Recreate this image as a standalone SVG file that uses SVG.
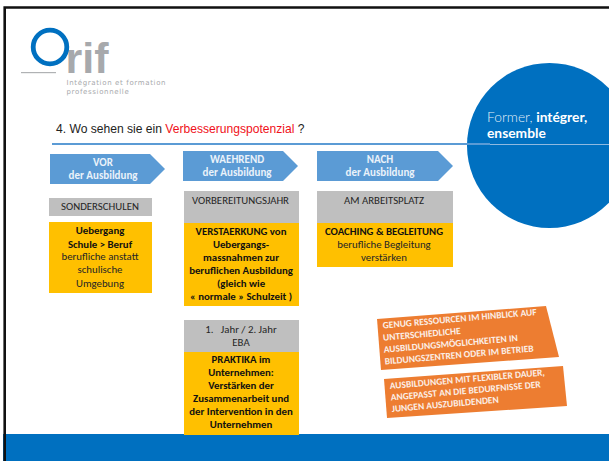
<svg xmlns="http://www.w3.org/2000/svg" width="609" height="461" viewBox="0 0 609 461">
<style>
.c{font-family:"Carlito","Lato","Open Sans",sans-serif;font-size:10.8px;text-anchor:middle;fill:#262626}
.b{font-weight:700;fill:#111}
.w{fill:#eaf2fa;font-weight:700;font-size:11px;text-anchor:middle;font-family:"Carlito","Lato","Open Sans",sans-serif}
.arrow{fill:#5b9bd5}
.grey{fill:#bfbfbf}
.yel{fill:#ffc000}
.or{fill:#ed7d31}
.ot{fill:#fbeee6;font-family:"Carlito","Lato","Open Sans",sans-serif;font-size:9.500px;font-weight:700}
.log{font-family:"DejaVu Sans",sans-serif;fill:#a7a9ac;font-size:7px;font-weight:400;letter-spacing:.65px}
.f{font-family:"Lato","Open Sans",sans-serif;font-size:13.800px;fill:#fff}
</style>
<rect width="609" height="461" fill="#fff"/>
<rect id="footer" x="3" y="434" width="606" height="27" fill="#0070c0"/>
<path id="frame" d="M4.700 461V7.500H609" fill="none" stroke="#111" stroke-width="2.600"/>
<g id="logo">
<text x="65.500" y="73" font-family="'Liberation Sans',sans-serif" font-size="43" font-weight="700" fill="#a7a9ac">rif</text>
<circle cx="50" cy="47" r="16.800" fill="none" stroke="#0070c0" stroke-width="4.800"/>
<rect x="21" y="72" width="35" height="1.200" fill="#b0b2b4"/>
<text class="log" x="66.500" y="85">Intégration et formation</text>
<text class="log" x="66.500" y="93.500">professionnelle</text>
</g>
<g id="circle">
<circle cx="549.500" cy="145.500" r="82.500" fill="#0070c0"/>
<text class="f" x="487" y="122" font-weight="300" fill-opacity=".9">Former, <tspan font-weight="700" fill-opacity="1">intégrer,</tspan></text>
<text class="f" x="487" y="138" font-weight="700">ensemble</text>
</g>
<g id="connectors">
<path d="M52 144H490" stroke="#5b9bd5" stroke-width="2" fill="none"/>
<path d="M490 144.500H609" stroke="#8fb9e0" stroke-width="1" fill="none"/>
</g>
<text id="title" x="56" y="133" font-family="'Liberation Sans',sans-serif" font-size="12.100" fill="#222">4. Wo sehen sie ein <tspan fill="#f01020">Verbesserungspotenzial</tspan> ?</text>
<g id="vor"><path class="arrow" d="M50 154H150L165 169L150 184H50Z"/><text class="w" x="103" y="166">VOR</text><text class="w" x="103" y="179">der Ausbildung</text></g>
<g id="waehrend"><path class="arrow" d="M183 151H283L298 166L283 181H183Z"/><text class="w" x="237" y="163">WAEHREND</text><text class="w" x="237" y="176">der Ausbildung</text></g>
<g id="nach"><path class="arrow" d="M317 151H438L453 166L438 181H317Z"/><text class="w" x="380" y="163">NACH</text><text class="w" x="380" y="176">der Ausbildung</text></g>
<g id="sonder"><rect class="grey" x="49" y="198" width="103" height="18"/><text class="c" x="100" y="210">SONDERSCHULEN</text></g>
<g id="uebergang"><rect class="yel" x="49" y="222" width="103" height="71"/>
<text class="c b" x="100" y="234">Uebergang</text><text class="c b" x="100" y="248">Schule &gt; Beruf</text><text class="c" x="100" y="260">berufliche anstatt</text><text class="c" x="100" y="273">schulische</text><text class="c" x="100" y="287">Umgebung</text></g>
<g id="vorbereitung"><rect class="grey" x="184" y="191" width="115" height="33"/><text class="c" x="240.500" y="204">VORBEREITUNGSJAHR</text></g>
<g id="verstaerkung"><rect class="yel" x="184" y="223" width="115" height="83"/>
<text class="c b" x="241" y="235">VERSTAERKUNG von</text><text class="c b" x="241" y="248">Uebergangs-</text><text class="c b" x="241" y="261">massnahmen zur</text><text class="c b" x="241" y="274">beruflichen Ausbildung</text><text class="c b" x="241" y="287">(gleich wie</text><text class="c b" x="241" y="300">« normale » Schulzeit )</text></g>
<g id="jahr"><rect class="grey" x="184" y="320" width="115" height="32"/><text class="c" x="241" y="333" xml:space="preserve">1.   Jahr / 2. Jahr</text><text class="c" x="241" y="346">EBA</text></g>
<g id="praktika"><rect class="yel" x="184" y="352" width="115" height="83"/>
<text class="c b" x="241" y="363">PRAKTIKA im</text><text class="c b" x="241" y="376">Unternehmen:</text><text class="c b" x="241" y="389">Verstärken der</text><text class="c b" x="241" y="402">Zusammenarbeit und</text><text class="c b" x="241" y="415">der Intervention in den</text><text class="c b" x="241" y="428">Unternehmen</text></g>
<g id="arbeitsplatz"><rect class="grey" x="317" y="191" width="136" height="33"/><text class="c" x="384" y="204">AM ARBEITSPLATZ</text></g>
<g id="coaching"><rect class="yel" x="317" y="223" width="136" height="44"/>
<text class="c b" x="384" y="235">COACHING &amp; BEGLEITUNG</text><text class="c" x="384" y="248">berufliche Begleitung</text><text class="c" x="384" y="261">verstärken</text></g>
<g id="genug"><path class="or" d="M377 319L546 306L559 357L381 370Z"/>
<text class="ot" x="383" y="328.500" transform="rotate(-5 383 328.500)">GENUG RESSOURCEN IM HINBLICK AUF</text><text class="ot" x="383.300" y="340.700" transform="rotate(-5 383.300 340.700)">UNTERSCHIEDLICHE</text><text class="ot" x="384" y="352.700" transform="rotate(-5 384 352.700)">AUSBILDUNGSMÖGLICHKEITEN IN</text><text class="ot" x="385" y="364.500" transform="rotate(-5 385 364.500)">BILDUNGSZENTREN ODER IM BETRIEB</text></g>
<g id="flex"><path class="or" d="M384 379L563 366L567 406L387 418Z"/>
<text class="ot" x="390" y="389" transform="rotate(-5 390 389)">AUSBILDUNGEN MIT FLEXIBLER DAUER,</text><text class="ot" x="391" y="400.500" transform="rotate(-5 391 400.500)">ANGEPASST AN DIE BEDURFNISSE DER</text><text class="ot" x="392" y="412" transform="rotate(-5 392 412)">JUNGEN AUSZUBILDENDEN</text></g>
</svg>
